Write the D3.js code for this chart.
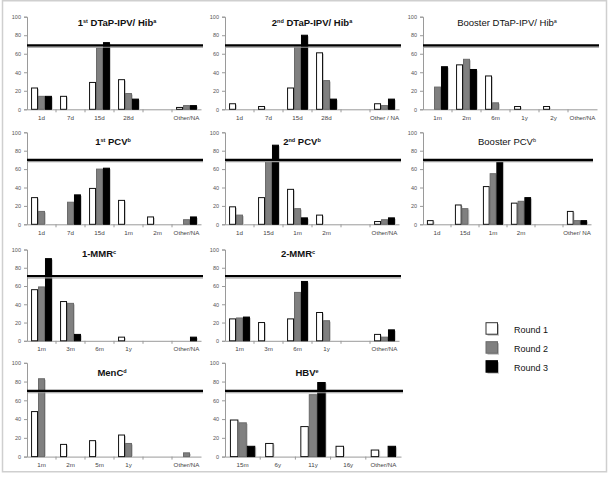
<!DOCTYPE html>
<html><head><meta charset="utf-8">
<script src="https://cdn.jsdelivr.net/npm/d3@7"></script>
<style>
html,body{margin:0;padding:0;background:#fff;}
svg{display:block;font-family:Arial,"Liberation Sans",sans-serif;}
</style></head>
<body><svg id="chart" width="609" height="478"></svg>
<script>
// ---------- DATA ----------
const roundNames = ["Round 1", "Round 2", "Round 3"];
const yTicks = [0, 20, 40, 60, 80, 100];

const dtap1Categories = ["1d", "7d", "15d", "28d", "", "Other/NA"];
const dtap1Round1 = [23, 14, 29, 32, 0, 2];
const dtap1Round2 = [14, 0, 66, 17, 0, 4];
const dtap1Round3 = [14, 0, 72, 11, 0, 4];

const dtap2Categories = ["1d", "7d", "15d", "28d", "", "Other / NA"];
const dtap2Round1 = [6, 3, 23, 61, 0, 6];
const dtap2Round2 = [0, 0, 67, 31, 0, 4];
const dtap2Round3 = [0, 0, 80, 11, 0, 11];

const dtapBCategories = ["1m", "2m", "6m", "1y", "2y", "Other/NA"];
const dtapBRound1 = [0, 48, 36, 3, 3, 0];
const dtapBRound2 = [24, 54, 7, 0, 0, 0];
const dtapBRound3 = [46, 43, 0, 0, 0, 0];

const pcv1Categories = ["1d", "7d", "15d", "1m", "2m", "Other/NA"];
const pcv1Round1 = [29, 0, 39, 26, 8, 0];
const pcv1Round2 = [14, 24, 60, 0, 0, 5];
const pcv1Round3 = [0, 32, 61, 0, 0, 8];

const pcv2Categories = ["1d", "15d", "1m", "2m", "", "Other/NA"];
const pcv2Round1 = [19, 29, 38, 10, 0, 3];
const pcv2Round2 = [10, 70, 17, 0, 0, 5];
const pcv2Round3 = [0, 86, 7, 0, 0, 7];

const pcvBCategories = ["1d", "15d", "1m", "2m", "", "Other/ NA"];
const pcvBRound1 = [4, 21, 41, 23, 0, 14];
const pcvBRound2 = [0, 17, 55, 25, 0, 4];
const pcvBRound3 = [0, 0, 70, 29, 0, 4];

const mmr1Categories = ["1m", "3m", "6m", "1y", "", "Other/NA"];
const mmr1Round1 = [56, 43, 0, 4, 0, 0];
const mmr1Round2 = [59, 41, 0, 0, 0, 0];
const mmr1Round3 = [90, 7, 0, 0, 0, 4];

const mmr2Categories = ["1m", "3m", "6m", "1y", "", "Other/NA"];
const mmr2Round1 = [24, 20, 24, 31, 0, 7];
const mmr2Round2 = [25, 0, 53, 22, 0, 4];
const mmr2Round3 = [26, 0, 65, 0, 0, 12];

const menCCategories = ["1m", "2m", "5m", "1y", "", "Other/NA"];
const menCRound1 = [48, 13, 17, 23, 0, 0];
const menCRound2 = [83, 0, 0, 14, 0, 4];
const menCRound3 = [0, 0, 0, 0, 0, 0];

const hbvCategories = ["15m", "6y", "11y", "16y", "Other/NA"];
const hbvRound1 = [39, 14, 32, 11, 7];
const hbvRound2 = [36, 0, 66, 0, 0];
const hbvRound3 = [11, 0, 79, 0, 11];

// reference (target) line value per panel
const targetValues = [69, 69, 69, 70, 70, 70, 71, 71, 70, 70];

// titles: [text, superscript?]
const titles = [
  [["1", 0], ["st", 1], [" DTaP-IPV/ Hib", 0], ["a", 1]],
  [["2", 0], ["nd", 1], [" DTaP-IPV/ Hib", 0], ["a", 1]],
  [["Booster DTaP-IPV/ Hib", 0], ["a", 1]],
  [["1", 0], ["st", 1], [" PCV", 0], ["b", 1]],
  [["2", 0], ["nd", 1], [" PCV", 0], ["b", 1]],
  [["Booster PCV", 0], ["b", 1]],
  [["1-MMR", 0], ["c", 1]],
  [["2-MMR", 0], ["c", 1]],
  [["MenC", 0], ["d", 1]],
  [["HBV", 0], ["e", 1]]
];

// ---------- LAYOUT ----------
const colX = [27, 225, 423];
const rowTop = [16.7, 132.3, 249.5, 362.8];
const rowBottom = [109.3, 224.3, 340.8, 456.6];
const titleX = [117, 312, 507, 113, 302, 507, 99, 298, 112, 307];
const titleDy = [9.5, 12.5, 7, 13];
const titleBold = [1, 1, 0, 1, 1, 0, 1, 1, 1, 1];

const panels = [
  {cats: dtap1Categories, vals: [dtap1Round1, dtap1Round2, dtap1Round3], row: 0, col: 0, w: 174},
  {cats: dtap2Categories, vals: [dtap2Round1, dtap2Round2, dtap2Round3], row: 0, col: 1, w: 174},
  {cats: dtapBCategories, vals: [dtapBRound1, dtapBRound2, dtapBRound3], row: 0, col: 2, w: 174},
  {cats: pcv1Categories, vals: [pcv1Round1, pcv1Round2, pcv1Round3], row: 1, col: 0, w: 174},
  {cats: pcv2Categories, vals: [pcv2Round1, pcv2Round2, pcv2Round3], row: 1, col: 1, w: 174},
  {cats: pcvBCategories, vals: [pcvBRound1, pcvBRound2, pcvBRound3], row: 1, col: 2, w: 168},
  {cats: mmr1Categories, vals: [mmr1Round1, mmr1Round2, mmr1Round3], row: 2, col: 0, w: 174},
  {cats: mmr2Categories, vals: [mmr2Round1, mmr2Round2, mmr2Round3], row: 2, col: 1, w: 174},
  {cats: menCCategories, vals: [menCRound1, menCRound2, menCRound3], row: 3, col: 0, w: 174},
  {cats: hbvCategories, vals: [hbvRound1, hbvRound2, hbvRound3], row: 3, col: 1, w: 176}
];

const roundFill = ["#ffffff", "#808080", "#000000"];
const roundStroke = ["#111111", "#6a6a6a", "#000000"];

const svg = d3.select("#chart");
svg.append("rect").attr("x", 0).attr("y", 0).attr("width", 609).attr("height", 478).attr("fill", "#fff");
svg.append("rect").attr("x", 2.5).attr("y", 0.75).attr("width", 604).attr("height", 471)
  .attr("fill", "none").attr("stroke", "#cfcfcf").attr("stroke-width", 1.5);

panels.forEach((p, pi) => {
  const x0 = colX[p.col], top = rowTop[p.row], bottom = rowBottom[p.row];
  const g = svg.append("g");
  const x = d3.scaleBand().domain(p.cats.map((c, i) => i)).range([x0, x0 + p.w])
    .paddingInner(0.28).paddingOuter(0.14);
  const xr = d3.scaleBand().domain([0, 1, 2]).range([0, x.bandwidth()]);
  const y = d3.scaleLinear().domain([0, 100]).range([bottom, top]);

  // Y axis
  const ya = g.append("g").attr("transform", `translate(${x0},0)`)
    .call(d3.axisLeft(y).tickValues(yTicks).tickSize(3).tickPadding(3));
  ya.select(".domain").attr("stroke", "#9a9a9a");
  ya.selectAll(".tick line").attr("stroke", "#9a9a9a");
  ya.selectAll(".tick text").attr("font-size", "5.5px").attr("fill", "#555").attr("font-family", "Arial, 'Liberation Sans', sans-serif");

  // X axis (labels at band centres)
  const xa = g.append("g").attr("transform", `translate(0,${bottom})`)
    .call(d3.axisBottom(x).tickSize(0).tickPadding(6).tickFormat(i => p.cats[i]));
  xa.select(".domain").attr("stroke", "#9a9a9a");
  xa.selectAll(".tick text").attr("font-size", "6.2px").attr("fill", "#444").attr("font-family", "Arial, 'Liberation Sans', sans-serif");
  // tick marks at category boundaries
  const step = x.step();
  const bounds = d3.range(1, p.cats.length).map(i => x(i) - step * x.paddingInner() / 2);
  g.selectAll(".bt").data(bounds).join("line")
    .attr("x1", d => d).attr("x2", d => d).attr("y1", bottom).attr("y2", bottom + 3)
    .attr("stroke", "#9a9a9a").attr("stroke-width", 1);

  // Bars
  const bars = [];
  p.vals.forEach((arr, r) => arr.forEach((v, i) => { if (v > 0) bars.push({r, i, v}); }));
  g.selectAll(".shadow").data(bars).join("rect")
    .attr("x", d => x(d.i) + xr(d.r) + 1).attr("y", d => y(d.v) + 1)
    .attr("width", xr.bandwidth()).attr("height", d => bottom - y(d.v) - 1)
    .attr("fill", "#d0d0d0");
  g.selectAll(".bar").data(bars).join("rect")
    .attr("x", d => x(d.i) + xr(d.r) + 0.5).attr("y", d => y(d.v))
    .attr("width", xr.bandwidth() - 1).attr("height", d => bottom - y(d.v))
    .attr("fill", d => roundFill[d.r]).attr("stroke", d => roundStroke[d.r]).attr("stroke-width", 1);

  // target line
  const ty = y(targetValues[pi]);
  g.append("line").attr("x1", x0).attr("x2", x0 + p.w + 2).attr("y1", ty + 1.8).attr("y2", ty + 1.8)
    .attr("stroke", "#999").attr("stroke-width", 1.2);
  g.append("line").attr("x1", x0).attr("x2", x0 + p.w + 2).attr("y1", ty).attr("y2", ty)
    .attr("stroke", "#000").attr("stroke-width", 2.2);

  // title
  const t = g.append("text").attr("x", titleX[pi]).attr("y", top + titleDy[p.row])
    .attr("text-anchor", "middle").attr("font-size", "9.5px")
    .attr("font-weight", titleBold[pi] ? "bold" : "normal").attr("fill", "#111");
  titles[pi].forEach(([s, sup]) => {
    const ts = t.append("tspan").text(s);
    if (sup) ts.attr("font-size", "5.5px").attr("baseline-shift", "super").attr("dy", 0);
  });
});

// Legend
const lg = svg.append("g");
roundNames.forEach((name, i) => {
  const ly = 322.7 + i * 19;
  lg.append("rect").attr("x", 487.5).attr("y", ly + 1.5).attr("width", 11.5).attr("height", 11.5).attr("fill", "#bdbdbd");
  lg.append("rect").attr("x", 486).attr("y", ly).attr("width", 11.5).attr("height", 11.5)
    .attr("fill", roundFill[i]).attr("stroke", i === 0 ? "#333" : roundStroke[i]).attr("stroke-width", 1);
  lg.append("text").attr("x", 514).attr("y", ly + 10).attr("font-size", "9px").attr("fill", "#111").text(name);
});
</script>
</body></html>
